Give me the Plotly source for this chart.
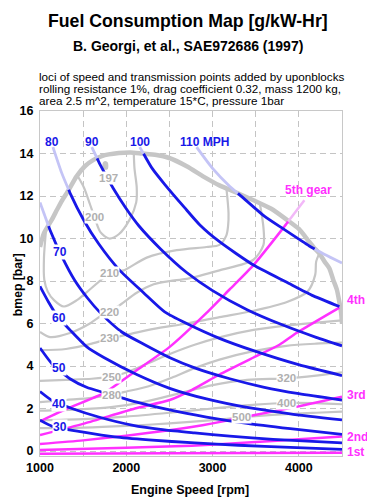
import numpy as np
import plotly.graph_objects as go

# ---------------- data ----------------
# wide-open-throttle envelope (max bmep)
env_rpm  = [1000, 1046, 1139, 1197, 1250, 1335, 1420, 1520, 1620, 1717, 1913, 2050, 2180, 2350, 2490, 2700, 2900, 3080, 3280, 3474, 3680, 3855, 4000, 4100, 4168, 4237, 4300, 4353, 4399, 4440, 4470, 4490, 4500]
env_bmep = [9.6, 10.25, 10.9, 11.35, 11.75, 12.3, 12.9, 13.4, 13.7, 13.88, 14.02, 14.05, 14.0, 13.93, 13.8, 13.4, 12.9, 12.5, 12.15, 11.8, 11.4, 10.9, 10.45, 9.95, 9.6, 9.3, 8.9, 8.6, 8.05, 7.6, 7.0, 6.5, 6.0]

# BSFC contours [g/kW-Hr]
c197_rpm  = [1740, 1775, 1775, 1755, 1740, 1740]
c197_bmep = [13.3, 13.3, 13.55, 13.6, 13.55, 13.3]
c200_rpm  = [1428, 1509, 1580, 1640, 1700, 1800, 1913, 2040, 2115, 2121, 2095, 2087]
c200_bmep = [13.0, 12.4, 11.6, 10.9, 10.3, 10.0, 10.2, 10.9, 11.7, 12.4, 13.3, 14.0]
c210_rpm  = [1070, 1046, 1050, 1090, 1162, 1277, 1428, 1578, 1740, 1880, 1971, 2237, 2584, 2930, 3080, 3160, 3180, 3185, 3162]
c210_bmep = [10.4, 9.1, 8.05, 7.5, 7.1, 6.8, 7.1, 7.6, 8.15, 8.45, 8.5, 9.1, 9.45, 9.6, 9.7, 10.15, 10.6, 11.2, 12.3]
c220_rpm  = [1000, 1116, 1347, 1578, 1740, 1900, 2121, 2318, 2503, 2700, 3080, 3474, 3590, 3590, 3550]
c220_bmep = [5.6, 5.36, 5.55, 6.0, 6.45, 6.8, 7.45, 7.85, 8.0, 8.1, 8.5, 9.0, 9.7, 10.5, 11.6]
c230_rpm  = [1000, 1300, 1600, 1809, 2040, 2318, 2700, 3080, 3474, 3855, 4100, 4190, 4200, 4237]
c230_bmep = [4.75, 4.8, 5.05, 5.3, 5.5, 5.75, 6.0, 6.3, 6.6, 7.0, 7.5, 8.3, 8.9, 9.3]
c250_rpm  = [1000, 1300, 1600, 1832, 1983, 2260, 2526, 2792, 3080, 3474, 3855, 4237, 4500]
c250_bmep = [3.3, 3.35, 3.4, 3.5, 3.67, 4.14, 4.6, 5.0, 5.35, 5.7, 5.9, 6.05, 6.15]
c280_rpm  = [1000, 1300, 1600, 1832, 2000, 2260, 2526, 2792, 3080, 3474, 3855, 4200, 4500]
c280_bmep = [2.3, 2.4, 2.5, 2.65, 2.8, 3.05, 3.45, 3.9, 4.3, 4.7, 4.95, 5.05, 5.1]
c320_rpm  = [1000, 1400, 1800, 2200, 2600, 3000, 3400, 3855, 4200, 4500]
c320_bmep = [1.9, 1.95, 2.05, 2.3, 2.7, 3.1, 3.35, 3.42, 3.55, 3.7]
c400_rpm  = [1000, 1500, 2000, 2500, 3000, 3500, 3855, 4200, 4500]
c400_bmep = [1.45, 1.5, 1.62, 1.8, 2.0, 2.18, 2.26, 2.25, 2.2]
c500_rpm  = [1000, 1500, 2000, 2500, 3000, 3335, 3800, 4200, 4500]
c500_bmep = [1.08, 1.1, 1.18, 1.3, 1.45, 1.58, 1.72, 1.8, 1.85]

contour_names = ["197", "200", "210", "220", "230", "250", "280", "320", "400", "500"]
contour_label_rpm  = [1798, 1636, 1809, 1809, 1809, 1832, 1832, 3855, 3855, 3335]
contour_label_bmep = [12.85, 11.0, 8.4, 6.55, 5.3, 3.5, 2.65, 3.42, 2.26, 1.6]

# constant vehicle speed loci [MPH]
mph30_rpm  = [1000, 1150, 1486, 1867, 2260, 2792, 3300, 3900, 4500]
mph30_bmep = [1.45, 1.15, 0.9, 0.66, 0.52, 0.38, 0.27, 0.17, 0.08]
mph40_rpm  = [1000, 1150, 1370, 1680, 2064, 2445, 2792, 3200, 3700, 4500]
mph40_bmep = [2.8, 2.35, 2.0, 1.6, 1.22, 0.99, 0.85, 0.7, 0.55, 0.38]
mph50_rpm  = [1000, 1150, 1347, 1540, 1740, 2121, 2503, 2930, 3400, 3900, 4500]
mph50_bmep = [4.85, 4.05, 3.4, 3.0, 2.75, 2.3, 1.93, 1.6, 1.3, 1.05, 0.78]
mph60_rpm  = [1000, 1100, 1200, 1347, 1543, 1740, 2121, 2503, 2930, 3400, 3900, 4500]
mph60_bmep = [7.75, 7.0, 6.35, 5.7, 4.9, 4.4, 3.6, 2.95, 2.45, 2.05, 1.75, 1.46]
mph70_rpm  = [1000, 1116, 1254, 1400, 1550, 1700, 1948, 2214, 2500, 2800, 3200, 3600, 4000, 4500]
mph70_bmep = [11.7, 10.4, 9.15, 8.05, 7.2, 6.5, 5.6, 5.0, 4.4, 3.9, 3.4, 3.0, 2.7, 2.4]
mph80_rpm  = [1150, 1250, 1347, 1509, 1680, 1913, 2200, 2445, 2700, 3080, 3474, 4006, 4500]
mph80_bmep = [14.3, 13.1, 12.15, 10.85, 9.75, 8.55, 7.45, 6.55, 6.0, 5.3, 4.72, 4.05, 3.55]
mph90_rpm  = [1600, 1700, 1850, 2000, 2145, 2400, 2700, 3000, 3400, 3800, 4200, 4500]
mph90_bmep = [14.3, 13.45, 12.35, 11.4, 10.6, 9.5, 8.4, 7.55, 6.65, 5.95, 5.35, 4.95]
mph100_rpm  = [2156, 2300, 2445, 2676, 2850, 3080, 3474, 3855, 4168, 4470]
mph100_bmep = [14.3, 13.3, 12.55, 11.45, 10.65, 9.85, 8.75, 7.95, 7.3, 6.8]
mph110_rpm  = [2815, 3000, 3200, 3358, 3600, 3820, 4121, 4300, 4500]
mph110_bmep = [14.3, 13.3, 12.45, 11.9, 11.05, 10.45, 9.65, 9.25, 8.85]

speed_names = ["30", "40", "50", "60", "70", "80", "90", "100", "110 MPH"]
speed_label_rpm  = [1231, 1220, 1220, 1220, 1231, 1139, 1601, 2156, 2907]
speed_label_bmep = [1.13, 2.2, 3.9, 6.25, 9.35, 14.55, 14.55, 14.55, 14.55]

# transmission gear loci
gear1_rpm  = [1000, 2500, 4500]
gear1_bmep = [-0.13, -0.11, -0.08]
gear2_rpm  = [1000, 2000, 2757, 3500, 4000, 4500]
gear2_bmep = [0.05, 0.15, 0.25, 0.42, 0.55, 0.68]
gear3_rpm  = [1000, 1500, 2000, 2500, 2757, 3000, 3474, 4000, 4500]
gear3_bmep = [0.33, 0.5, 0.72, 0.98, 1.13, 1.3, 1.68, 2.1, 2.55]
gear4_rpm  = [1000, 1520, 2100, 2503, 2757, 3080, 3474, 3775, 3971, 4470]
gear4_bmep = [0.75, 1.3, 2.0, 2.4, 2.87, 3.6, 4.4, 5.0, 5.55, 6.75]
gear5_rpm  = [1000, 1347, 1740, 2121, 2503, 2930, 3197, 3474, 3820, 4064]
gear5_bmep = [1.4, 2.05, 2.72, 3.8, 4.9, 6.5, 7.6, 8.75, 10.5, 11.8]

gear_names = ["1st", "2nd", "3rd", "4th", "5th gear"]
gear_label_rpm  = [4500, 4500, 4500, 4500, 4110]
gear_label_bmep = [-0.05, 0.66, 2.64, 7.1, 12.3]

x_tick_vals = [1000, 1500, 2000, 2500, 3000, 3500, 4000, 4500]
x_tick_text = ["1000", "", "2000", "", "3000", "", "4000", ""]
y_tick_vals = [0, 2, 4, 6, 8, 10, 12, 14, 16]

# ---------------- style ----------------
FONT = "Liberation Sans, Arial, sans-serif"
DARK_BLUE = "#1818e8"
LIGHT_BLUE = "#c4c4f6"
MAGENTA = "#ff30ff"
LIGHT_PINK = "#f2b8f8"
GRAY = "#c6c6c6"
LABEL_GRAY = "#b0b0b0"

PAGE_OFFSET = 8            # default body margin of the html page
W, H = 375 - PAGE_OFFSET, 500 - PAGE_OFFSET
ML, MR, MT, MB = 38 - PAGE_OFFSET, 33, 111 - PAGE_OFFSET, 44
PW, PH = W - ML - MR, H - MT - MB


def paper_x(px):
    # px measured in the screenshot (page) coordinates
    return (px - PAGE_OFFSET - ML) / PW


def paper_y(py):
    return (H - MB - (py - PAGE_OFFSET)) / PH


def split_by_envelope(rpm, bmep):
    """Split a curve into (inside, segment) pieces relative to the envelope."""
    r = np.asarray(rpm, float)
    b = np.asarray(bmep, float)
    d = b - np.interp(r, env_rpm, env_bmep)
    segs = []
    cur_r, cur_b = [r[0]], [b[0]]
    state = d[0] <= 0
    for i in range(1, len(r)):
        s = d[i] <= 0
        if s != state:
            t = d[i - 1] / (d[i - 1] - d[i])
            xr = r[i - 1] + t * (r[i] - r[i - 1])
            xb = b[i - 1] + t * (b[i] - b[i - 1])
            cur_r.append(xr); cur_b.append(xb)
            segs.append((state, cur_r, cur_b))
            cur_r, cur_b = [xr], [xb]
            state = s
        cur_r.append(r[i]); cur_b.append(b[i])
    segs.append((state, cur_r, cur_b))
    return segs


fig = go.Figure()

contours = [
    (c197_rpm, c197_bmep), (c200_rpm, c200_bmep), (c210_rpm, c210_bmep),
    (c220_rpm, c220_bmep), (c230_rpm, c230_bmep), (c250_rpm, c250_bmep),
    (c280_rpm, c280_bmep), (c320_rpm, c320_bmep), (c400_rpm, c400_bmep),
    (c500_rpm, c500_bmep),
]
for i, (cr, cb) in enumerate(contours):
    fig.add_trace(go.Scatter(
        x=cr, y=cb, mode="lines",
        line=dict(color=GRAY, width=2.2, shape="spline", smoothing=0.8),
        fill="toself" if i == 0 else None, fillcolor=GRAY if i == 0 else None,
        hoverinfo="skip", showlegend=False))

fig.add_trace(go.Scatter(
    x=env_rpm, y=env_bmep, mode="lines",
    line=dict(color=GRAY, width=4.5, shape="spline", smoothing=0.6),
    hoverinfo="skip", showlegend=False))

gears = [(gear1_rpm, gear1_bmep), (gear2_rpm, gear2_bmep), (gear3_rpm, gear3_bmep),
         (gear4_rpm, gear4_bmep), (gear5_rpm, gear5_bmep)]
for gr, gb in gears:
    for inside, sr, sb in split_by_envelope(gr, gb):
        fig.add_trace(go.Scatter(
            x=sr, y=sb, mode="lines",
            line=dict(color=MAGENTA if inside else LIGHT_PINK, width=2.5,
                      shape="spline", smoothing=0.6),
            hoverinfo="skip", showlegend=False))

speeds = [(mph30_rpm, mph30_bmep), (mph40_rpm, mph40_bmep), (mph50_rpm, mph50_bmep),
          (mph60_rpm, mph60_bmep), (mph70_rpm, mph70_bmep), (mph80_rpm, mph80_bmep),
          (mph90_rpm, mph90_bmep), (mph100_rpm, mph100_bmep), (mph110_rpm, mph110_bmep)]
for sr0, sb0 in speeds:
    for inside, sr, sb in split_by_envelope(sr0, sb0):
        fig.add_trace(go.Scatter(
            x=sr, y=sb, mode="lines",
            line=dict(color=DARK_BLUE if inside else LIGHT_BLUE, width=2.8,
                      shape="spline", smoothing=0.6),
            hoverinfo="skip", showlegend=False))

ann = []
for name, xr, yb in zip(contour_names, contour_label_rpm, contour_label_bmep):
    ann.append(dict(x=xr, y=yb, xref="x", yref="y", text=name, showarrow=False,
                    font=dict(family=FONT, size=11.5, color=LABEL_GRAY, weight="bold"),
                    bgcolor="white", borderpad=0))
for k, (name, xr, yb) in enumerate(zip(speed_names, speed_label_rpm, speed_label_bmep)):
    ann.append(dict(x=xr, y=yb, xref="x", yref="y", text=name, showarrow=False,
                    font=dict(family=FONT, size=12, color=DARK_BLUE, weight="bold"),
                    bgcolor="white" if k < 5 else None, borderpad=0))
for k, (name, xr, yb) in enumerate(zip(gear_names, gear_label_rpm, gear_label_bmep)):
    ann.append(dict(x=xr, y=yb, xref="x", yref="y", text=name, showarrow=False,
                    xanchor="left" if k < 4 else "center", xshift=3 if k < 4 else 0,
                    font=dict(family=FONT, size=12, color=MAGENTA, weight="bold")))


def page_text(px, py, text, size, bold=True, xanchor="center", angle=0):
    return dict(x=paper_x(px), y=paper_y(py), xref="paper", yref="paper",
                xanchor=xanchor, yanchor="middle", textangle=angle,
                text=text, showarrow=False, borderpad=0,
                font=dict(family=FONT, size=size, color="black",
                          weight="bold" if bold else "normal"))


ann += [
    page_text(187, 21, "Fuel Consumption Map [g/kW-Hr]", 17.7),
    page_text(187, 46, "B. Georgi, et al., SAE972686 (1997)", 14),
    page_text(36, 76, "loci of speed and transmission points added by uponblocks", 11.7, bold=False, xanchor="left"),
    page_text(36, 88, "rolling resistance 1%, drag coefficient 0.32, mass 1200 kg,", 11.7, bold=False, xanchor="left"),
    page_text(36, 100, "area 2.5 m^2, temperature 15*C, pressure 1bar", 11.7, bold=False, xanchor="left"),
    page_text(16, 285, "bmep [bar]", 12.2, angle=-90),
    page_text(189, 490, "Engine Speed [rpm]", 12.5),
]

axis_common = dict(showline=True, linecolor="#c8c8c8", linewidth=1, mirror=True,
                   showgrid=True, gridcolor="#c4c4c4", griddash="6px,4px", gridwidth=1,
                   zeroline=False, ticks="",
                   tickfont=dict(family=FONT, size=12.5, color="black", weight="bold"))

fig.update_layout(
    width=W, height=H, autosize=False,
    margin=dict(l=ML, r=MR, t=MT, b=MB),
    paper_bgcolor="white", plot_bgcolor="white",
    showlegend=False,
    xaxis=dict(range=[1000, 4500], tickvals=x_tick_vals, ticktext=x_tick_text, **axis_common),
    yaxis=dict(range=[-0.235, 16], tickvals=y_tick_vals, ticklabelstandoff=3, **axis_common),
    annotations=ann,
)

fig.write_html("out.html")
